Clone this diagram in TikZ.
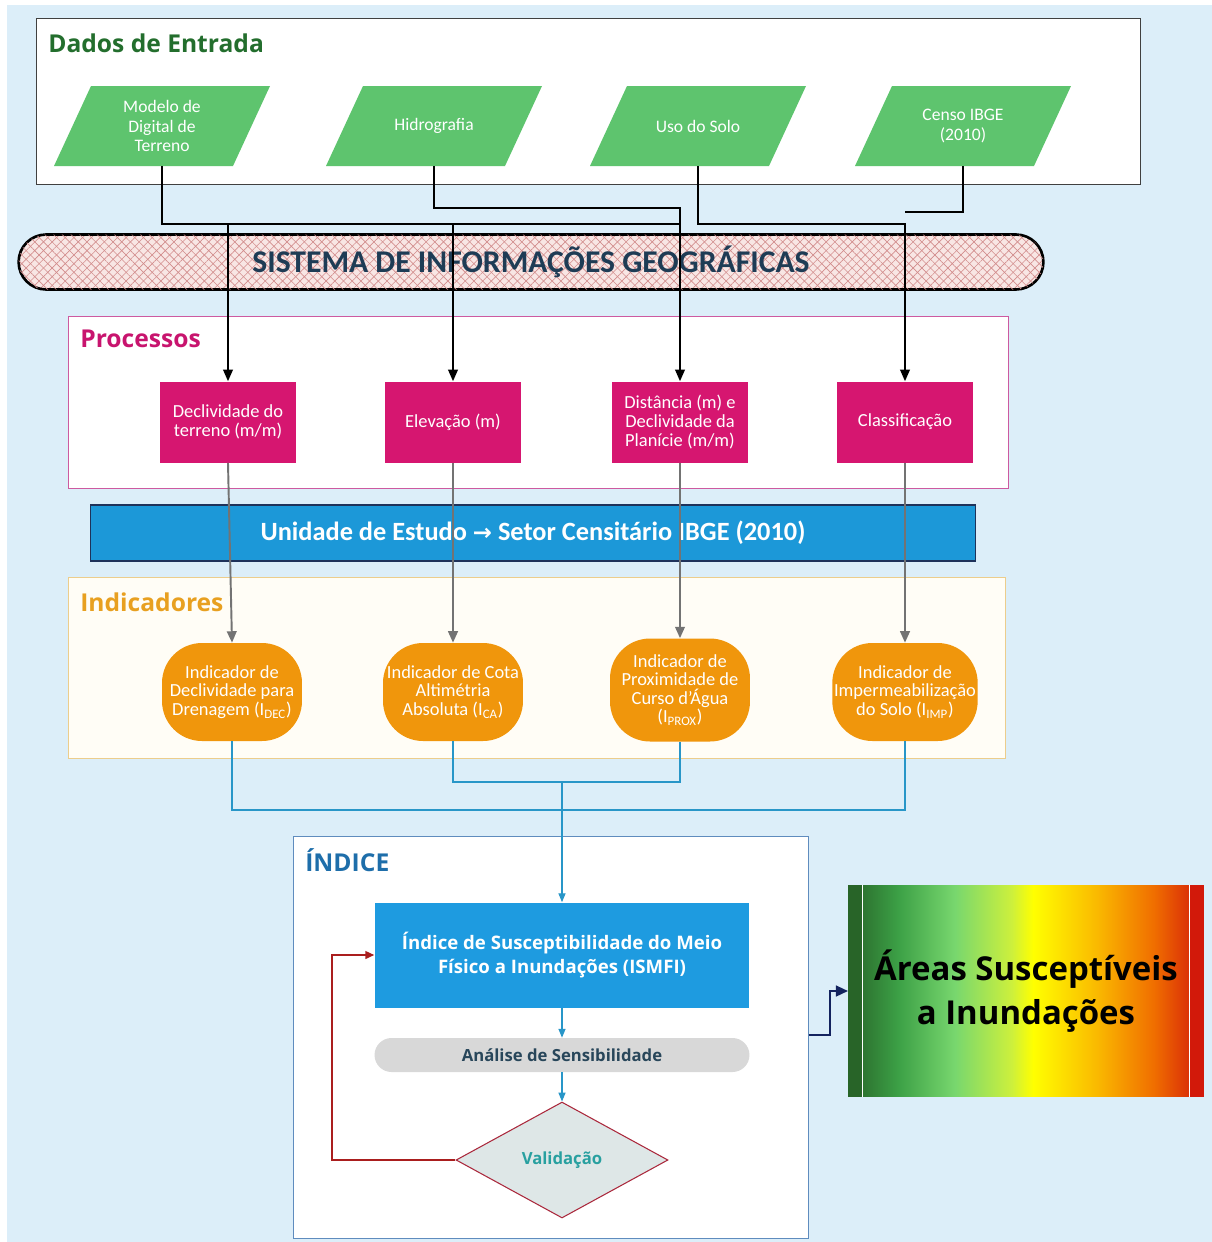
\documentclass[tikz,border=0pt]{standalone}
\usepackage{fontspec}
\setmainfont{Carlito}
\newfontfamily\segoe{Open Sans}
\newfontfamily\dejavu{DejaVu Sans}
\usepackage{tikz}
\usetikzlibrary{positioning}
\usetikzlibrary{arrows.meta}
\usetikzlibrary{shapes.geometric}
\usetikzlibrary{patterns.meta}

\definecolor{bgblue}{RGB}{220,238,249}
\definecolor{entradagreen}{RGB}{35,110,45}
\definecolor{paragreen}{RGB}{94,196,110}
\definecolor{procmagenta}{RGB}{200,20,110}
\definecolor{procbox}{RGB}{214,22,112}
\definecolor{procedge}{RGB}{205,90,160}
\definecolor{unitblue}{RGB}{28,152,216}
\definecolor{unitedge}{RGB}{30,50,90}
\definecolor{indorange}{RGB}{232,160,32}
\definecolor{indedge}{RGB}{236,205,140}
\definecolor{indfill}{RGB}{255,253,246}
\definecolor{nodeorange}{RGB}{240,150,12}
\definecolor{indiceblue}{RGB}{30,110,170}
\definecolor{indiceedge}{RGB}{95,140,190}
\definecolor{ismfiblue}{RGB}{30,155,224}
\definecolor{tealarrow}{RGB}{40,150,200}
\definecolor{sensgray}{RGB}{216,216,216}
\definecolor{senstext}{RGB}{40,70,90}
\definecolor{valfill}{RGB}{222,231,231}
\definecolor{valedge}{RGB}{170,40,60}
\definecolor{valtext}{RGB}{40,160,160}
\definecolor{loopred}{RGB}{170,30,30}
\definecolor{navyarrow}{RGB}{20,35,95}
\definecolor{sigpink}{RGB}{248,230,228}
\definecolor{sighatch}{RGB}{210,140,140}
\definecolor{sigtext}{RGB}{30,60,85}
\definecolor{heatdark}{RGB}{40,100,40}
\definecolor{heatgreen}{RGB}{60,160,70}
\definecolor{heatlight}{RGB}{120,215,110}
\definecolor{heatlime}{RGB}{205,240,60}
\definecolor{heatyellow}{RGB}{255,255,0}
\definecolor{heatamber}{RGB}{250,185,0}
\definecolor{heatorange}{RGB}{240,110,0}
\definecolor{heatred}{RGB}{210,25,10}

\pgfdeclarehorizontalshading{heatmap}{100bp}{%
  color(0bp)=(heatdark); color(25bp)=(heatdark); color(32bp)=(heatgreen);
  color(40bp)=(heatlight); color(48bp)=(heatlime); color(51bp)=(heatyellow);
  color(60bp)=(heatamber); color(68bp)=(heatorange); color(75bp)=(heatred);
  color(100bp)=(heatred)}

\begin{document}
\begin{tikzpicture}[
    x=0.02cm, y=-0.02cm,
    panel/.style={draw, anchor=north west, inner sep=0pt},
    paneltitle/.style={anchor=west, inner sep=0pt, font=\segoe\fontsize{14}{16}\selectfont\bfseries},
    entrada/.style={
        rectangle, text=white, align=center,
        minimum width=2.9cm, minimum height=1.6cm, inner sep=0pt,
        font=\fontsize{10}{11}\selectfont
    },
    processo/.style={
        rectangle, fill=procbox, text=white, align=center,
        minimum width=2.72cm, minimum height=1.62cm, inner sep=1pt,
        font=\fontsize{10.5}{10.8}\selectfont
    },
    indicador/.style={
        rectangle, rounded corners=0.8cm, fill=nodeorange, text=white,
        align=center, minimum width=2.8cm, minimum height=1.96cm, inner sep=1pt,
        font=\fontsize{10.5}{10.5}\selectfont
    },
    wire/.style={black, line width=0.8pt},
    wire arrow/.style={wire, -{Triangle[length=6.5pt,width=5.5pt]}},
    gray arrow/.style={draw=black!55, line width=1.1pt, -{Triangle[length=6.5pt,width=5.5pt]}},
    teal line/.style={draw=tealarrow, line width=0.6pt},
    teal arrow/.style={teal line, -{Triangle[length=5pt,width=4pt]}}
]
\useasboundingbox (0,0) rectangle (1212,1242);
\fill[white] (0,0) rectangle (1212,1242);
\fill[bgblue] (7,5) rectangle (1212,1242);

% dados de entrada
\node[panel, draw=black!75, fill=white, minimum width=22.08cm, minimum height=3.32cm] (dados) at (36,18) {};
\node[paneltitle, text=entradagreen] (dadostitle) at (48,43) {Dados de Entrada};

\foreach \cx in {162,434,698,963}
    \fill[paragreen] (\cx-108,166) -- (\cx-71,86) -- (\cx+108,86) -- (\cx+71,166) -- cycle;

\node[entrada] (mdt) at (162,126) {Modelo de\\Digital de\\Terreno};
\node[entrada] (hidro) at (434,126) {Hidrografia};
\node[entrada] (uso) at (698,126) {Uso do Solo};
\node[entrada] (censo) at (963,126) {Censo IBGE\\(2010)};

% faixa do SIG
\node[rectangle, rounded corners=0.55cm, draw=black, line width=1.5pt,
      minimum width=20.5cm, minimum height=1.1cm,
      preaction={fill=sigpink},
      pattern={Lines[angle=45,distance=3.5pt,line width=0.35pt]}, pattern color=sighatch,
      postaction={pattern={Lines[angle=-45,distance=3.5pt,line width=0.35pt]}, pattern color=sighatch},
      text=sigtext, font=\fontsize{18}{20}\selectfont\bfseries] (sig) at (531,262)
      {SISTEMA DE INFORMAÇÕES GEOGRÁFICAS};

% processos
\node[panel, draw=procedge, fill=white, minimum width=18.8cm, minimum height=3.44cm] (proc) at (68,316) {};
\node[paneltitle, text=procmagenta] (proctitle) at (80,339) {Processos};

\node[processo] (decl) at (228,422) {Declividade do\\terreno (m/m)};
\node[processo] (elev) at (453,422) {Elevação (m)};
\node[processo] (dist) at (680,422) {Distância (m) e\\Declividade da\\Planície (m/m)};
\node[processo] (classif) at (905,422) {Classificação};

\coordinate (r1) at (0,224);
\coordinate (r2) at (0,208);
\coordinate (r3) at (0,212);

\draw[wire] (mdt.south) |- (dist.north |- r1);
\draw[wire arrow] (decl.north |- r1) -- (decl.north);
\draw[wire arrow] (elev.north |- r1) -- (elev.north);
\draw[wire arrow] (hidro.south) |- (dist.north |- r2) -- (dist.north);
\draw[wire arrow] (uso.south) |- (classif.north |- r1) -- (classif.north);
\draw[wire] (censo.south) |- (classif.north |- r3);

% unidade de estudo
\node[rectangle, fill=unitblue, draw=unitedge, line width=0.6pt,
      minimum width=17.72cm, minimum height=1.12cm, text=white,
      font=\fontsize{15}{18}\selectfont\bfseries] (unidade) at (533,533)
      {Unidade de Estudo {\dejavu\bfseries\fontsize{13}{16}\selectfont →} Setor Censitário IBGE (2010)};

% indicadores
\node[panel, draw=indedge, fill=indfill, minimum width=18.74cm, minimum height=3.62cm] (ind) at (68,577) {};
\node[paneltitle, text=indorange] (indtitle) at (80,602) {Indicadores};

\node[indicador] (idec) at (232,692) {Indicador de\\Declividade para\\Drenagem (I\textsubscript{DEC})};
\node[indicador] (ica) at (453,692) {Indicador de Cota\\Altimétria\\Absoluta (I\textsubscript{CA})};
\node[indicador, minimum height=2.06cm] (iprox) at (680,690) {Indicador de\\Proximidade de\\Curso d'Água\\(I\textsubscript{PROX})};
\node[indicador] (iimp) at (905,692) {Indicador de\\Impermeabilização\\do Solo (I\textsubscript{IMP})};

\draw[gray arrow] (decl.south) -- (idec.north);
\draw[gray arrow] (elev.south) -- (ica.north);
\draw[gray arrow] (dist.south) -- (iprox.north);
\draw[gray arrow] (classif.south) -- (iimp.north);

% indice
\node[panel, draw=indiceedge, fill=white, minimum width=10.3cm, minimum height=8.04cm] (indice) at (293,836) {};
\node[paneltitle, text=indiceblue] (indicetitle) at (305,860) {ÍNDICE};

\node[rectangle, fill=ismfiblue, text=white, align=center,
      minimum width=7.5cm, minimum height=2.1cm,
      font=\segoe\fontsize{10.6}{14}\selectfont\bfseries] (ismfi) at (562,955)
      {Índice de Susceptibilidade do Meio\\Físico a Inundações (ISMFI)};
\node[rectangle, rounded corners=0.34cm, fill=sensgray, text=senstext,
      minimum width=7.5cm, minimum height=0.68cm,
      font=\segoe\fontsize{9.5}{12}\selectfont\bfseries] (analise) at (562,1055)
      {Análise de Sensibilidade};
\node[diamond, draw=valedge, fill=valfill, line width=0.6pt, text=valtext,
      minimum width=4.24cm, minimum height=2.32cm, inner sep=0pt,
      font=\segoe\fontsize{9.5}{12}\selectfont\bfseries] (valid) at (562,1160)
      {Validação};

\coordinate (r4) at (0,810);
\coordinate (r5) at (0,782);
\coordinate (lp) at (332,0);

\draw[teal line] (idec.south) |- (iimp.south |- r4) -- (iimp.south);
\draw[teal line] (ica.south) |- (iprox.south |- r5) -- (iprox.south);
\draw[teal arrow] (ismfi.north |- r5) -- (ismfi.north);
\draw[teal arrow] (ismfi.south) -- (analise.north);
\draw[teal arrow] (analise.south) -- (valid.north);
\draw[draw=loopred, line width=0.7pt, -{Triangle[length=5pt,width=4.5pt]}]
    (valid.west) -| (lp |- ismfi.west) -- (ismfi.west);

% resultado
\node[rectangle, shading=heatmap, minimum width=7.1cm, minimum height=4.24cm] (areas) at (1026,991) {};
\fill[heatdark] (areas.north west) rectangle ++(14,212);
\fill[heatred] (areas.north east) rectangle ++(-14,212);
\draw[white, line width=0.6pt] ([xshift=0.28cm]areas.north west) -- ([xshift=0.28cm]areas.south west);
\draw[white, line width=0.6pt] ([xshift=-0.28cm]areas.north east) -- ([xshift=-0.28cm]areas.south east);
\node[align=center, text=black, font=\segoe\fontsize{18.75}{25}\selectfont\bfseries] (areastext) at (areas.center)
      {Áreas Susceptíveis\\a Inundações};

\coordinate (r6) at (0,1035);
\coordinate (kink) at (830,0);
\draw[draw=navyarrow, line width=1.6pt, -{Triangle[length=7pt,width=6pt]}]
    (indice.east |- r6) -- (kink |- r6) -- (kink |- areas.west) -- (areas.west);

\end{tikzpicture}
\end{document}
